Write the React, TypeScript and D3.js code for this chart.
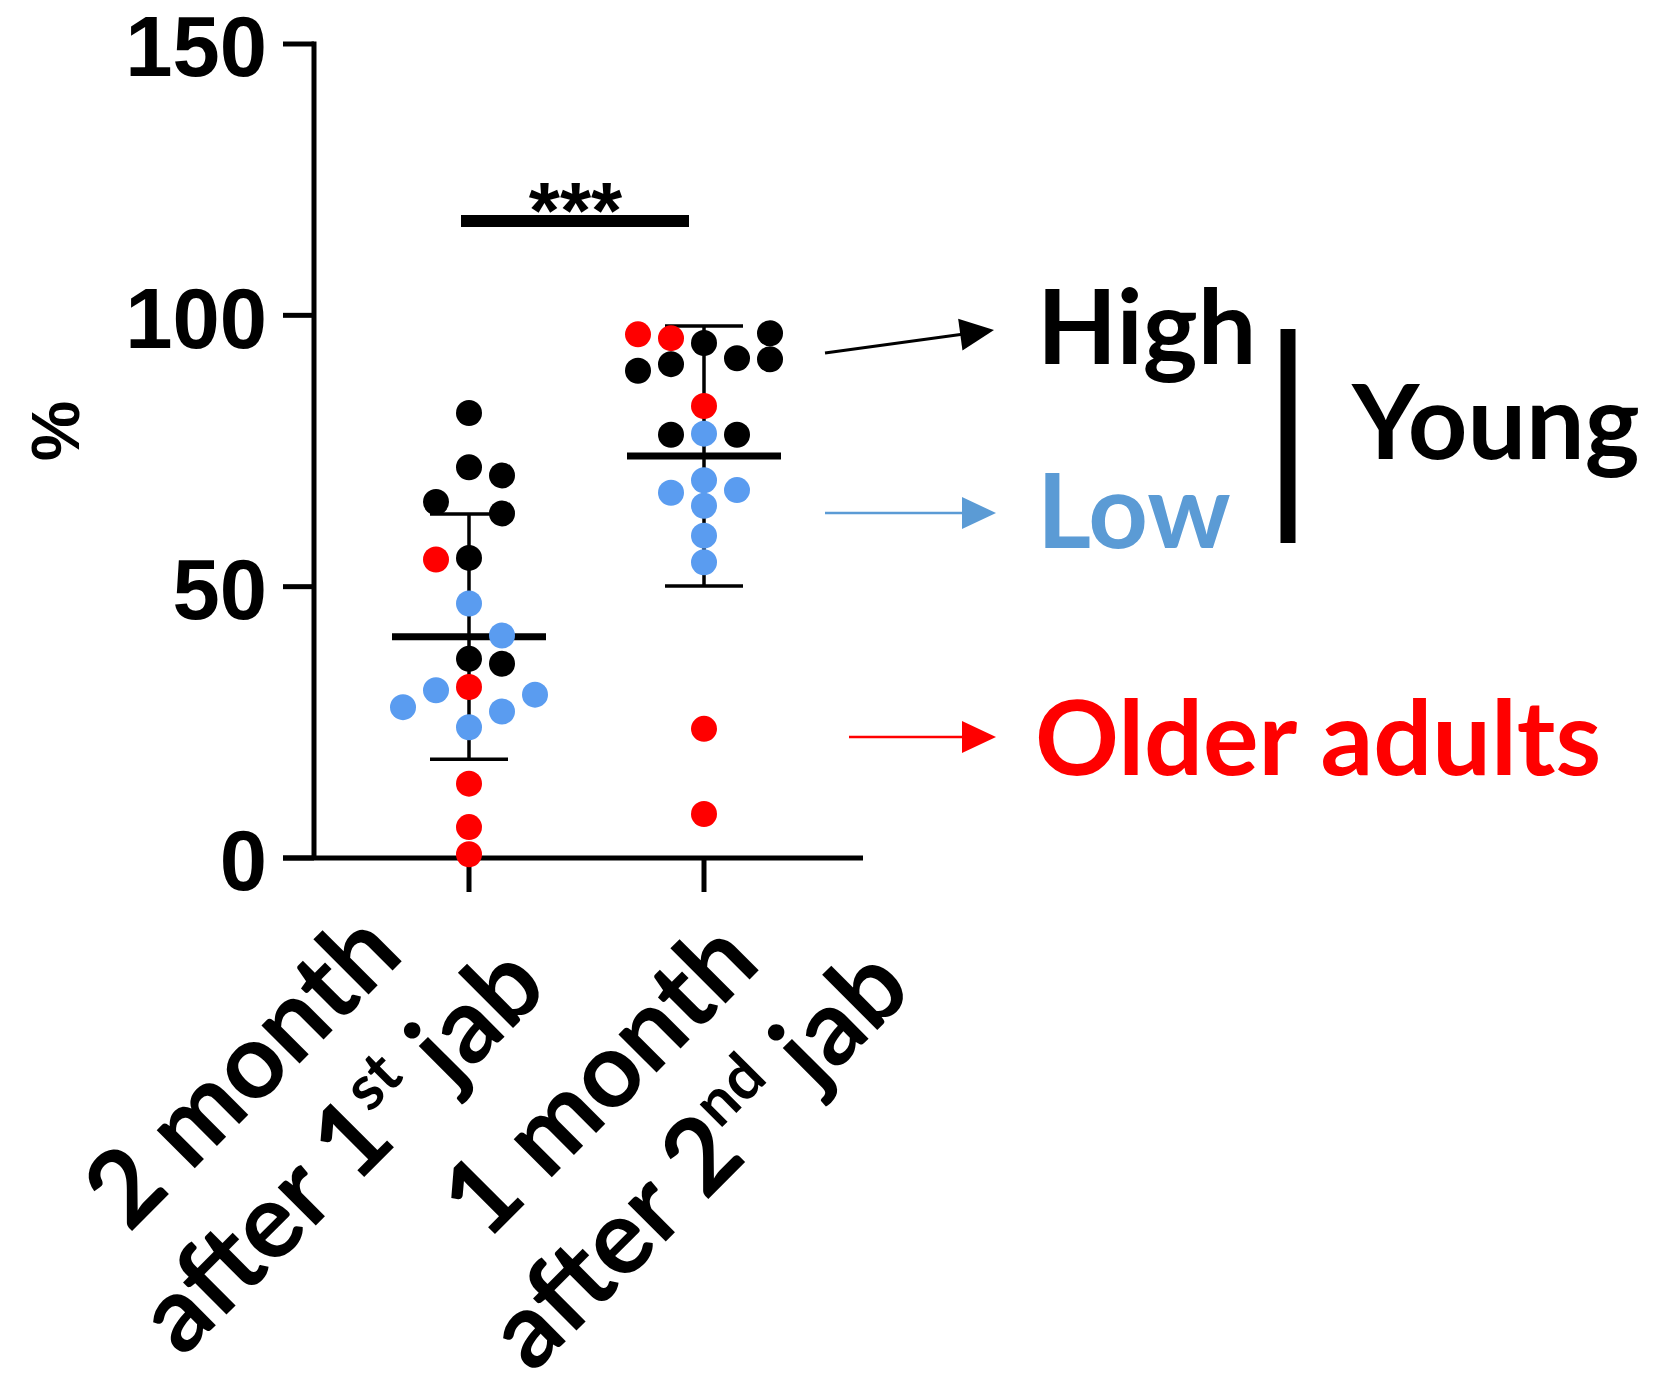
import React from "react";
import * as d3 from "d3";

// ---------- data ----------
const yTicks = [0, 50, 100, 150];
const catLine1 = ["2 month", "1 month"];
const catLine2Pre = ["after 1", "after 2"];
const catSup = ["st", "nd"];
const catLine2Post = [" jab", " jab"];

// group: k = Young high (black), b = Young low (blue), r = Older adults (red)
const g1Values = [82, 72, 70.5, 65.6, 63.5, 55.0, 55.3, 46.9, 41.0, 36.7, 35.8, 31.5, 30.9, 30.1, 27.8, 27.0, 24.1, 13.7, 5.7, 0.7];
const g1Groups = ["k", "k", "k", "k", "k", "r", "k", "b", "b", "k", "k", "r", "b", "b", "b", "b", "b", "r", "r", "r"];
const g1Slots = [0, 0, 1, -1, 1, -1, 0, 0, 1, 0, 1, 0, -1, 2, -2, 1, 0, 0, 0, 0];

const g2Values = [96.5, 95.8, 94.9, 96.7, 89.8, 91.0, 92.1, 91.9, 83.3, 78.0, 78.2, 78.0, 69.6, 67.3, 67.8, 64.9, 59.4, 54.5, 23.8, 8.1];
const g2Groups = ["r", "r", "k", "k", "k", "k", "k", "k", "r", "k", "b", "k", "b", "b", "b", "b", "b", "b", "r", "r"];
const g2Slots = [-2, -1, 0, 2, -2, -1, 1, 2, 0, -1, 0, 1, 0, -1, 1, 0, 0, 0, 0, 0];

const legendLabels = ["High", "Low", "Older adults"];
const groupLabel = "Young";
const sigLabel = "***";
const yLabel = "%";

// ---------- styles ----------
const COLORS: Record<string, string> = { k: "#000000", b: "#5A9CF0", r: "#FF0000" };
const LOW_TEXT = "#5B9BD5";
const NUM_FONT = "'Liberation Sans', Arial, sans-serif";
const TXT_FONT = "Lato, 'Open Sans', sans-serif";

export default function App() {
  const W = 1654;
  const H = 1391;
  const y = d3.scaleLinear().domain([0, 150]).range([858, 44]);
  const x = d3.scaleLinear().domain([0, 1]).range([469, 704]);
  const slotW = 33;
  const r = 13;

  const groups = [
    { values: g1Values, grp: g1Groups, slots: g1Slots },
    { values: g2Values, grp: g2Groups, slots: g2Slots },
  ];

  const axisLeft = 314;
  const axisBottom = y(0);
  const xAxisStart = 283;
  const xAxisEnd = 863;
  const catFont = 105;
  const legFont = 104;

  const labelShift = [
    { dx: -176, dy: 253 },
    { dx: -54, dy: 262 },
  ];

  const arrow = (x1: number, y1: number, x2: number, y2: number, color: string, sw: number, key: string) => {
    const ang = Math.atan2(y2 - y1, x2 - x1);
    const L = 34, Wd = 16;
    const bx = x2 - L * Math.cos(ang), by = y2 - L * Math.sin(ang);
    const px = -Math.sin(ang) * Wd, py = Math.cos(ang) * Wd;
    return (
      <g key={key}>
        <line x1={x1} y1={y1} x2={bx + 2 * Math.cos(ang)} y2={by + 2 * Math.sin(ang)} stroke={color} strokeWidth={sw} />
        <path d={`M${x2},${y2}L${bx + px},${by + py}L${bx - px},${by - py}Z`} fill={color} />
      </g>
    );
  };

  return (
    <div style={{ position: "absolute", left: 0, top: 0, width: W, height: H, background: "#fff" }}>
      <svg width={W} height={H} viewBox={`0 0 ${W} ${H}`}>
        <rect width={W} height={H} fill="#fff" />
        {/* y axis */}
        <line x1={axisLeft} y1={y(150) - 2.5} x2={axisLeft} y2={axisBottom} stroke="#000" strokeWidth={5} />
        {yTicks.map((t) => (
          <g key={t}>
            <line x1={xAxisStart} y1={y(t)} x2={axisLeft} y2={y(t)} stroke="#000" strokeWidth={5} />
            <text x={267} y={y(t)} dy="0.38em" textAnchor="end" fontFamily={NUM_FONT} fontWeight="bold" fontSize={85} fill="#000">
              {t}
            </text>
          </g>
        ))}
        <text transform={`translate(79,431) rotate(-90)`} textAnchor="middle" fontFamily={NUM_FONT} fontWeight="bold" fontSize={68} fill="#000">
          {yLabel}
        </text>
        {/* x axis */}
        <line x1={xAxisStart} y1={axisBottom} x2={xAxisEnd} y2={axisBottom} stroke="#000" strokeWidth={5} />
        {groups.map((_, i) => (
          <line key={i} x1={x(i)} y1={axisBottom} x2={x(i)} y2={axisBottom + 34} stroke="#000" strokeWidth={5} />
        ))}
        {/* category labels */}
        {groups.map((_, i) => (
          <g key={i} transform={`translate(${x(i) + labelShift[i].dx},${axisBottom + labelShift[i].dy}) rotate(-45)`}
            fontFamily={TXT_FONT} fontWeight={700} fontSize={catFont} fill="#000">
            <text x={-7} y={-29} textAnchor="middle">{catLine1[i]}</text>
            <text x={7} y={97} textAnchor="middle">
              {catLine2Pre[i]}
              <tspan fontSize={62} dy={-41}>{catSup[i]}</tspan>
              <tspan dy={41}>{catLine2Post[i]}</tspan>
            </text>
          </g>
        ))}
        {/* mean & SD */}
        {groups.map((g, i) => {
          const m = d3.mean(g.values) as number;
          const sd = d3.deviation(g.values) as number;
          const cx = x(i);
          return (
            <g key={i}>
              <line x1={cx} y1={y(m + sd)} x2={cx} y2={y(m - sd)} stroke="#000" strokeWidth={3.5} />
              <line x1={cx - 39} y1={y(m + sd)} x2={cx + 39} y2={y(m + sd)} stroke="#000" strokeWidth={3.5} />
              <line x1={cx - 39} y1={y(m - sd)} x2={cx + 39} y2={y(m - sd)} stroke="#000" strokeWidth={3.5} />
              <line x1={cx - 77} y1={y(m)} x2={cx + 77} y2={y(m)} stroke="#000" strokeWidth={7} />
            </g>
          );
        })}
        {/* dots */}
        {groups.map((g, i) =>
          g.values.map((v, j) => (
            <circle key={`${i}-${j}`} cx={x(i) + g.slots[j] * slotW} cy={y(v)} r={r} fill={COLORS[g.grp[j]]} />
          ))
        )}
        {/* significance */}
        <line x1={x(0) - 8} y1={221} x2={x(1) - 15} y2={221} stroke="#000" strokeWidth={12} />
        <text x={(x(0) + x(1)) / 2 - 11} y={238} textAnchor="middle" fontFamily={NUM_FONT} fontWeight="bold" fontSize={80} fill="#000">
          {sigLabel}
        </text>
        {/* legend annotations */}
        {arrow(825, 353, 994, 330, "#000", 3, "a1")}
        {arrow(825, 513, 996, 513, LOW_TEXT, 2.5, "a2")}
        {arrow(849, 737, 996, 737, "#FF0000", 2.5, "a3")}
        <text x={1037} y={364} fontFamily={TXT_FONT} fontWeight={700} fontSize={legFont} fill="#000">{legendLabels[0]}</text>
        <text x={1037} y={548} fontFamily={TXT_FONT} fontWeight={700} fontSize={legFont} fill={LOW_TEXT}>{legendLabels[1]}</text>
        <text x={1035} y={775} fontFamily={TXT_FONT} fontWeight={700} fontSize={legFont} fill="#FF0000">{legendLabels[2]}</text>
        <line x1={1288} y1={329} x2={1288} y2={543} stroke="#000" strokeWidth={15} />
        <text x={1352} y={459} fontFamily={TXT_FONT} fontWeight={700} fontSize={legFont} fill="#000">{groupLabel}</text>
      </svg>
    </div>
  );
}
